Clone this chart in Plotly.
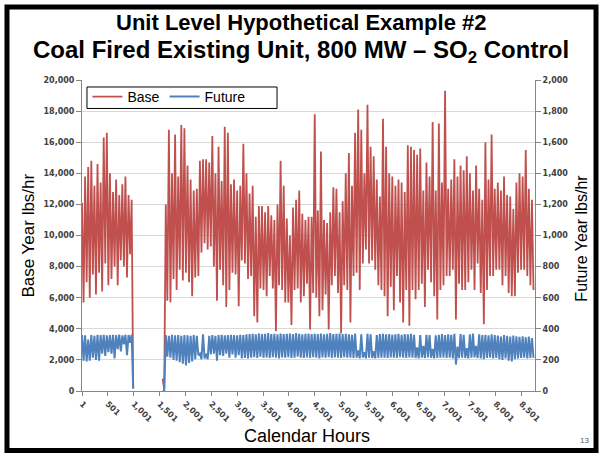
import plotly.graph_objects as go

# hourly emissions summarised as the upper / lower swing in each 60-hour block
STEP = 60

base_hi = [12100, 13800, 14400, 14800, 13200, 14600, 13400, 16300, 16600, 14000,
           12800, 13600, 12600, 13300, 13800, 12600, 12300,
           None, None, None, None, None, None, None, None, None,
           800, 12000, 16800, 14000, 16500, 13800, 17100, 16900, 14500, 13600,
           12900, 13000, 14800, 14900, 14900, 14700, 16400, 14000, 15700, 13500,
           17000, 16600, 13300, 13600, 12900, 13200, 15900, 14000, 12700, 13200,
           11200, 11900, 11900, 11500, 11900, 11300, 11000, 12000, 14800, 13200,
           11100, 10000, 11800, 12300, 12900, 11400, 11000, 11200, 11200, 17800,
           11600, 15400, 11000, 10800, 11500, 13100, 13000, 11500, 12200, 14000,
           15300, 13200, 16600, 18100, 16800, 14000, 18400, 15700, 15100, 13600,
           12500, 17500, 15700, 14000, 13800, 13200, 13600, 13400, 12800, 15800,
           15700, 15500, 15200, 15600, 12900, 14700, 13800, 17300, 12900, 17200,
           13400, 19300, 13000, 13600, 14900, 13800, 14500, 14200, 15100, 14000,
           12900, 14500, 13000, 12300, 16000, 13600, 16500, 13000, 13400, 12900,
           13800, 12600, 12500, 11700, 13400, 14000, 13800, 15500, 13000, 12300]

base_lo = [5700, 7000, 6000, 7500, 6200, 7600, 6400, 8200, 6800, 7200,
           8000, 6800, 8400, 8000, 7300, 8800, 200,
           None, None, None, None, None, None, None, None, None,
           100, 5800, 5700, 7200, 6500, 7800, 7100, 7600, 7000, 6100,
           7300, 7400, 8900, 9500, 9100, 9300, 8000, 5800, 7800, 6800,
           5400, 6500, 7600, 7500, 5450, 8400, 8200, 7200, 7400, 4800,
           4400, 6600, 6500, 6100, 7400, 6600, 3850, 6800, 6500, 5700,
           5700, 4250, 6500, 6600, 5700, 6100, 6900, 3950, 6300, 6000,
           4800, 5200, 6200, 3950, 6800, 7400, 6300, 3700, 6800, 6500,
           4400, 7400, 7600, 6500, 8200, 9100, 8200, 8400, 7800, 6800,
           6500, 6100, 4800, 6700, 5200, 7400, 5700, 4400, 6500, 4200,
           6500, 5900, 6500, 6900, 5400, 7800, 7000, 6100, 4600, 6500,
           6800, 7400, 7400, 7800, 4600, 6900, 6500, 6500, 7000, 7800,
           6500, 8200, 6300, 4300, 6500, 7400, 7400, 7800, 7800, 6800,
           7400, 6300, 6100, 6100, 7600, 7800, 7800, 7400, 6800, 6500]

future_hi = [360, 358, 330, 360, 355, 362, 360, 362, 358, 360,
             362, 360, 362, 358, 362, 360, 362,
             None, None, None, None, None, None, None, None, None,
             0, 360, 355, 362, 358, 360, 355, 360, 358, 355,
             360, 355, 240, 365, 240, 355, 360, 355, 360, 362,
             358, 360, 362, 360, 358, 362, 360, 365, 366, 368,
             364, 370, 366, 368, 372, 366, 368, 364, 370, 366,
             368, 370, 366, 372, 368, 364, 368, 370, 366, 368,
             366, 370, 364, 368, 372, 366, 368, 370, 366, 368,
             365, 362, 370, 260, 365, 250, 368, 365, 255, 360,
             366, 368, 364, 366, 362, 365, 368, 362, 366, 364,
             368, 362, 280, 360, 290, 362, 360, 270, 358, 362,
             366, 360, 364, 362, 368, 285, 366, 362, 275, 364,
             370, 290, 365, 360, 362, 358, 364, 360, 356, 350,
             360, 355, 350, 356, 352, 348, 352, 346, 350, 340]

future_lo = [195, 190, 195, 215, 200, 195, 240, 225, 250, 240,
             210, 270, 255, 300, 230, 310, 15,
             None, None, None, None, None, None, None, None, None,
             0, 220, 215, 200, 195, 185, 175, 165, 180, 190,
             205, 230, 205, 210, 205, 235, 240, 195, 230, 225,
             240, 215, 235, 215, 230, 210, 212, 210, 215, 218,
             212, 220, 214, 216, 212, 218, 215, 210, 216, 214,
             218, 212, 215, 220, 214, 212, 216, 213, 218, 214,
             210, 216, 214, 218, 212, 216, 214, 212, 218, 215,
             215, 212, 215, 210, 215, 210, 215, 212, 210, 212,
             215, 214, 212, 216, 214, 212, 218, 214, 212, 216,
             214, 212, 210, 214, 212, 216, 214, 210, 212, 214,
             216, 212, 214, 210, 170, 212, 214, 212, 210, 214,
             216, 212, 210, 205, 212, 214, 210, 212, 205, 200,
             210, 195, 190, 205, 210, 212, 214, 210, 212, 214]

tick_hours = list(range(1, 8760, 500))
tick_text = [f"{h:,}" for h in tick_hours]


def zigzag(hi, lo):
    xs, ys = [], []
    for i, (a, b) in enumerate(zip(hi, lo)):
        xs += [1 + STEP * i, 1 + STEP * i + STEP // 2]
        ys += [a, b]
    return xs, ys


bx, by = zigzag(base_hi, base_lo)
fx, fy = zigzag(future_hi, future_lo)

AX = "#868686"
TICKFONT = dict(family="DejaVu Sans", size=8, color="#404040", weight="bold")
FONT = "Liberation Sans, Arial"

fig = go.Figure()
fig.add_trace(go.Scatter(x=bx, y=by, name="Base", mode="lines",
                         line=dict(color="#C0504D", width=1.8), yaxis="y"))
fig.add_trace(go.Scatter(x=fx, y=fy, name="Future", mode="lines",
                         line=dict(color="#4F81BD", width=2), yaxis="y2"))

fig.update_layout(
    width=602, height=455,
    margin=dict(l=82, r=67, t=80, b=64),
    paper_bgcolor="white", plot_bgcolor="white",
    font=dict(family=FONT, color="black"),
    xaxis=dict(range=[1, 8760], tickvals=tick_hours, ticktext=tick_text,
               tickangle=45, tickfont=TICKFONT, showgrid=False, zeroline=False,
               showline=True, linecolor=AX, ticks="outside", ticklen=4,
               tickcolor=AX),
    yaxis=dict(range=[0, 20000], dtick=2000, tickformat=",", tickfont=TICKFONT,
               gridcolor="#D9D9D9", zeroline=False, showline=True, linecolor=AX,
               ticks="outside", ticklen=5, tickcolor=AX),
    yaxis2=dict(range=[0, 2000], dtick=200, tickformat=",", tickfont=TICKFONT,
                overlaying="y", side="right", showgrid=False, zeroline=False,
                showline=True, linecolor=AX, ticks="outside", ticklen=5,
                tickcolor=AX),
    legend=dict(orientation="h", x=0.012, y=0.9968, xanchor="left", yanchor="top",
                bgcolor="rgba(0,0,0,0)", borderwidth=0,
                font=dict(family=FONT, size=14)),
    showlegend=True,
)

# legend box (white, black outline) sitting under the legend entries
fig.add_shape(type="rect", xref="paper", yref="paper", layer="above",
              x0=0.0110, x1=0.4305, y0=0.9085, y1=0.9775,
              fillcolor="white", line=dict(color="black", width=1))

fig.add_annotation(text="<b>Unit Level Hypothetical Example #2</b>",
                   xref="paper", yref="paper", x=0.4834, y=1.1862,
                   xanchor="center", yanchor="middle", showarrow=False,
                   font=dict(size=22))
fig.add_annotation(text="<b>Coal Fired Existing Unit, 800 MW – SO<sub>2</sub> Control</b>",
                   xref="paper", yref="paper", x=0.4834, y=1.0931,
                   xanchor="center", yanchor="middle", showarrow=False,
                   font=dict(size=24))
fig.add_annotation(text="Base Year lbs/hr", textangle=-90, xref="paper", yref="paper",
                   x=-0.119, y=0.5, xanchor="center", yanchor="middle",
                   showarrow=False, font=dict(size=17))
fig.add_annotation(text="Future Year lbs/hr", textangle=-90, xref="paper", yref="paper",
                   x=1.1038, y=0.49, xanchor="center", yanchor="middle",
                   showarrow=False, font=dict(size=16))
fig.add_annotation(text="Calendar Hours", xref="paper", yref="paper",
                   x=0.497, y=-0.146, xanchor="center", yanchor="middle",
                   showarrow=False, font=dict(size=18))
fig.add_annotation(text="13", xref="paper", yref="paper", x=1.110, y=-0.159,
                   xanchor="center", yanchor="middle",
                   showarrow=False, font=dict(size=8, color="#595959"))

# slide frame
fig.add_shape(type="rect", xref="paper", yref="paper",
              x0=-0.1656, x1=1.1347, y0=-0.191, y1=1.2344,
              line=dict(color="black", width=5))

fig.write_html("out.html", config={"displayModeBar": False},
               post_script="document.body.style.margin='0px';"
                           "document.body.style.overflow='hidden';")
